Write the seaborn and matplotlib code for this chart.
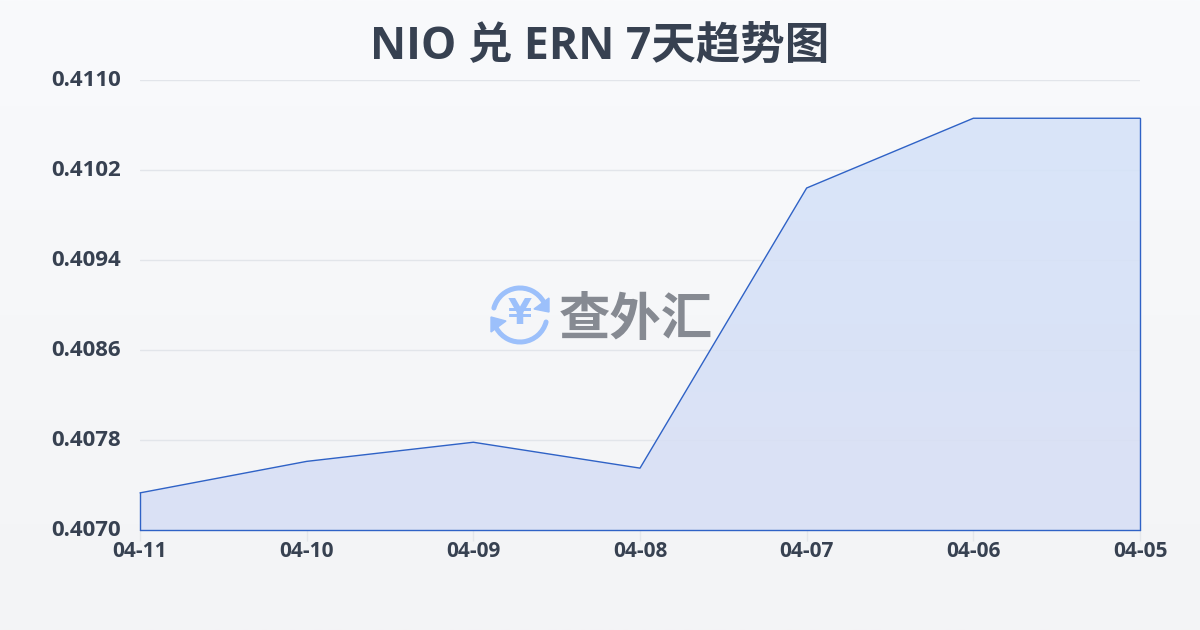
import numpy as np
import pandas as pd
import seaborn as sns
import matplotlib
matplotlib.use("Agg")
import matplotlib.pyplot as plt
from matplotlib.colors import LinearSegmentedColormap
from matplotlib.patches import Arc, Polygon
from matplotlib.transforms import ScaledTranslation

dates = ["04-11", "04-10", "04-09", "04-08", "04-07", "04-06", "04-05"]
rates = [0.40733, 0.40761, 0.40778, 0.40755, 0.41004, 0.41066, 0.41066]
y_ticks = [0.4070, 0.4078, 0.4086, 0.4094, 0.4102, 0.4110]
y_labels = ["0.4070", "0.4078", "0.4086", "0.4094", "0.4102", "0.4110"]
title = "NIO 兑 ERN 7天趋势图"
watermark = "查外汇"

sns.set_theme(style="white")
plt.rcParams["font.family"] = ["Open Sans", "Noto Sans CJK SC", "DejaVu Sans"]
INK = "#374151"
LINE = "#2f62c6"

W, H = 1200, 630
fig = plt.figure(figsize=(W / 100, H / 100), dpi=100)

# page gradient
bg = fig.add_axes([0, 0, 1, 1], zorder=0)
bg.axis("off")
bg.imshow(np.linspace(0, 1, 256)[:, None], aspect="auto", extent=(0, 1, 0, 1),
          cmap=LinearSegmentedColormap.from_list("bg", ["#f9fafc", "#f3f4f6"]))

# watermark logo (px coordinates of the page)
wm = fig.add_axes([0, 0, 1, 1], zorder=1)
wm.set_xlim(0, W); wm.set_ylim(H, 0); wm.axis("off")
BLUE = "#9cc0fb"
cx, cy, d = 520, 315, 54
wm.add_patch(Arc((cx, cy), d, d, theta1=195, theta2=330, color=BLUE, lw=3.6, capstyle="round"))
wm.add_patch(Arc((cx, cy), d, d, theta1=15, theta2=150, color=BLUE, lw=3.6, capstyle="round"))
wm.add_patch(Polygon([[549, 298], [549, 312], [534, 309]], color=BLUE))
wm.add_patch(Polygon([[491, 317], [491, 332], [506, 321]], color=BLUE))
wm.text(cx, cy - 1, "¥", fontsize=25, fontweight="bold", color=BLUE, ha="center", va="center",
        family=["DejaVu Sans"])
wm.text(636, 319, watermark, fontsize=37, fontweight="bold", color="#868a92", ha="center", va="center",
        family=["Noto Sans CJK SC"])

# chart
ax = fig.add_axes([140 / W, 1 - 530 / H, 1000 / W, 450 / H], zorder=2)
ax.patch.set_alpha(0)
df = pd.DataFrame({"date": dates, "rate": rates})
x = np.arange(len(dates))

cmap = LinearSegmentedColormap.from_list("fill", ["#d5e3f9", "#d8dff5"])
ax.set_xlim(0, len(dates) - 1)
ax.set_ylim(y_ticks[0], y_ticks[-1])
ax.yaxis.grid(True, color="#e2e5ea", lw=1)
ax.set_axisbelow(True)
poly = ax.fill_between(x, rates, y_ticks[0], color="none", lw=0)
img = ax.imshow(np.linspace(0, 1, 256)[:, None], aspect="auto", alpha=0.88, zorder=1.5,
                extent=(0, len(dates) - 1, y_ticks[0], max(rates)), cmap=cmap)
img.set_clip_path(poly.get_paths()[0], transform=ax.transData)
ax.set_xlim(0, len(dates) - 1)
ax.set_ylim(y_ticks[0], y_ticks[-1])

sns.lineplot(data=df, x=x, y="rate", ax=ax, color=LINE, lw=1, zorder=3, clip_on=False)
ax.plot([0, 0], [rates[0], y_ticks[0]], color=LINE, lw=1, zorder=3, clip_on=False)
ax.plot([x[-1], x[-1]], [rates[-1], y_ticks[0]], color=LINE, lw=1, zorder=3, clip_on=False)
ax.plot([0, x[-1]], [y_ticks[0], y_ticks[0]], color=LINE, lw=1, zorder=3, clip_on=False)

for s in ax.spines.values():
    s.set_visible(False)
ax.set_xlabel(""); ax.set_ylabel("")
ax.set_xticks(x)
ax.set_xticklabels(dates, fontsize=15, fontweight="bold", color=INK)
ax.set_yticks(y_ticks)
ax.set_yticklabels(y_labels, fontsize=16, fontweight="bold", color=INK)
ax.tick_params(axis="x", length=8, width=1, color="#e4e7eb", pad=0, bottom=True)
ax.tick_params(axis="y", length=0, pad=13.7, left=False)
up = ScaledTranslation(0, 1.5 / 100, fig.dpi_scale_trans)
for t in ax.get_yticklabels():
    t.set_transform(t.get_transform() + up)

fig.text(0.5, 1 - 47 / H, title, fontsize=32, fontweight="bold", color=INK, ha="center", va="center")
fig.savefig("out.png", dpi=100)
